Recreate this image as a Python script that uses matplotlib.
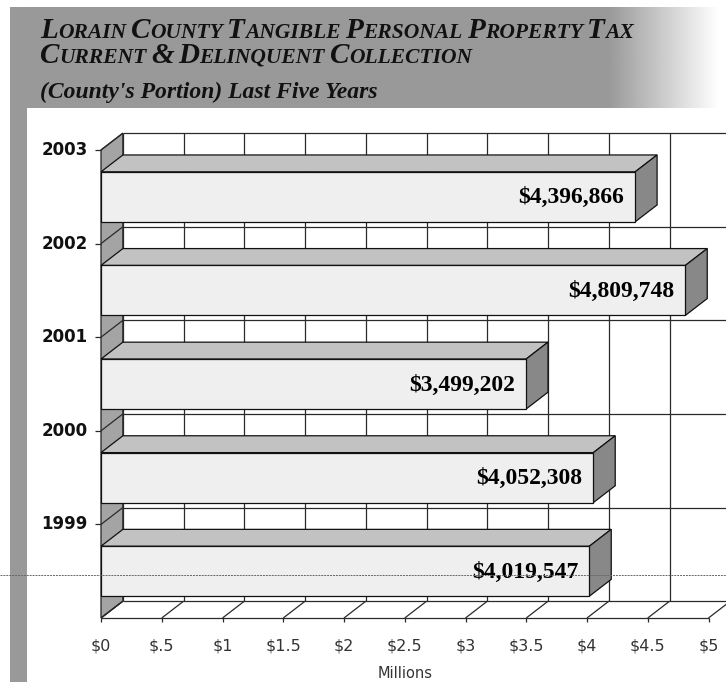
import numpy as np
import matplotlib
matplotlib.use('Agg')
import matplotlib.pyplot as plt
from matplotlib.patches import Polygon, Rectangle

# data
years = ['2003', '2002', '2001', '2000', '1999']
collections = [4396866, 4809748, 3499202, 4052308, 4019547]
tick_vals = [0, 0.5, 1, 1.5, 2, 2.5, 3, 3.5, 4, 4.5, 5]
tick_labels = ['$0', '$.5', '$1', '$1.5', '$2', '$2.5', '$3', '$3.5', '$4', '$4.5', '$5']

title1 = 'Lorain County Tangible Personal Property Tax'
title2 = 'Current & Delinquent Collection'
subtitle = "(County's Portion) Last Five Years"

W, H = 726, 682
# layout of the pseudo-3D frame (pixels)
x0, px_per_m = 101, 121.5     # front plane: $0 position, pixels per million
y0, px_per_band = 150, 93.6   # front plane: top of first band, band height
depth = 0.18                  # oblique depth, in axis units
gap = 0.233                   # free space above/below each bar inside its band
vmax = 5

fig = plt.figure(figsize=(W / 100, H / 100), dpi=100)

# background axes in pixel coordinates
bg = fig.add_axes([0, 0, 1, 1], zorder=0)
bg.set_xlim(0, W)
bg.set_ylim(H, 0)
bg.axis('off')

hdr_grey = 0.60
xs = np.arange(10, W)
alpha = np.clip((718 - xs) / 110.0, 0, 1)
grad = np.zeros((1, len(xs), 4))
grad[..., :3] = hdr_grey
grad[..., 3] = alpha
bg.imshow(grad, extent=[10, W, 108, 7], aspect='auto', interpolation='bilinear')
bg.add_patch(Rectangle((10, 7), 17, H - 7, fc=(hdr_grey,) * 3, ec='none'))

# chart axes: x in millions, y in category bands
ax = fig.add_axes([0, 0, 1, 1], zorder=1)
ax.set_xlim(-x0 / px_per_m, (W - x0) / px_per_m)
ax.set_ylim((H - y0) / px_per_band, -y0 / px_per_band)
ax.axis('off')

n = len(years)
xr = (W - x0) / px_per_m
line_kw = dict(color='#2a2a2a', lw=0.9, solid_capstyle='butt')

# back wall grid
for i in range(n + 1):
    ax.plot([depth, xr], [i - depth, i - depth], **line_kw)
for t in tick_vals:
    ax.plot([t + depth, t + depth], [-depth, n - depth], **line_kw)

# floor
ax.plot([0, vmax], [n, n], **line_kw)
for t in tick_vals:
    ax.plot([t, t + depth], [n, n - depth], **line_kw)
    ax.plot([t, t], [n, n + 0.045], **line_kw)

# left wall
ax.add_patch(Polygon([(0, 0), (depth, -depth), (depth, n - depth), (0, n)],
                     closed=True, fc='#a4a4a4', ec='#222222', lw=0.9))
for i in range(n + 1):
    ax.plot([0, depth], [i, i - depth], **line_kw)

# bars
for i, val in enumerate(collections):
    v = val / 1e6
    top, bot = i + gap, i + 1 - gap
    ax.add_patch(Polygon([(0, top), (v, top), (v + depth, top - depth), (depth, top - depth)],
                         closed=True, fc='#c2c2c2', ec='#111111', lw=0.9, zorder=3))
    ax.add_patch(Polygon([(v, top), (v + depth, top - depth), (v + depth, bot - depth), (v, bot)],
                         closed=True, fc='#888888', ec='#111111', lw=0.9, zorder=3))
    ax.add_patch(Rectangle((0, top), v, bot - top, fc='#efefef', ec='#111111', lw=0.9, zorder=3))
    ax.annotate('${:,}'.format(val), xy=(v, (top + bot) / 2), xytext=(-11, -1),
                textcoords='offset pixels', ha='right', va='center',
                family='Liberation Serif', weight='bold', fontsize=17, zorder=4)

# category labels and ticks
for i, yr in enumerate(years):
    ax.plot([-6 / px_per_m, 0], [i, i], **line_kw)
    ax.annotate(yr, xy=(0, i), xytext=(-13, 0), textcoords='offset pixels',
                ha='right', va='center', weight='bold', fontsize=12, color='#111111')

# value axis labels
for t, lbl in zip(tick_vals, tick_labels):
    ax.annotate(lbl, xy=(t, n), xytext=(0, -28), textcoords='offset pixels',
                ha='center', va='center', fontsize=11.5, color='#333333')
ax.annotate('Millions', xy=(vmax / 2, n), xytext=(0, -55), textcoords='offset pixels',
            ha='center', va='center', fontsize=10.5, color='#333333')

# scanner streak
ax.plot([0, W], [575, 575], transform=bg.transData, color='#666666', lw=0.7,
        ls=(0, (2, 1)), zorder=10)

# title in small caps, built piece by piece
renderer = fig.canvas.get_renderer()


def small_caps(x, y, text, big, small):
    cur = x
    for word in text.split(' '):
        runs = []
        for ch in word:
            size = big if (ch.isupper() or ch == '&') else small
            if runs and runs[-1][1] == size:
                runs[-1][0] += ch.upper()
            else:
                runs.append([ch.upper(), size])
        for s, size in runs:
            t = bg.text(cur, y, s, fontsize=size, family='Liberation Serif', weight='bold',
                        style='italic', va='baseline', ha='left', color='#111111')
            cur = t.get_window_extent(renderer).x1
        cur += small * 0.3


small_caps(40, 38, title1, 21, 15.5)
small_caps(40, 63, title2, 21, 15.5)
bg.text(40, 98, subtitle, fontsize=17, family='Liberation Serif', weight='bold',
        style='italic', va='baseline', ha='left', color='#111111')

fig.savefig('out.png', dpi=100)
